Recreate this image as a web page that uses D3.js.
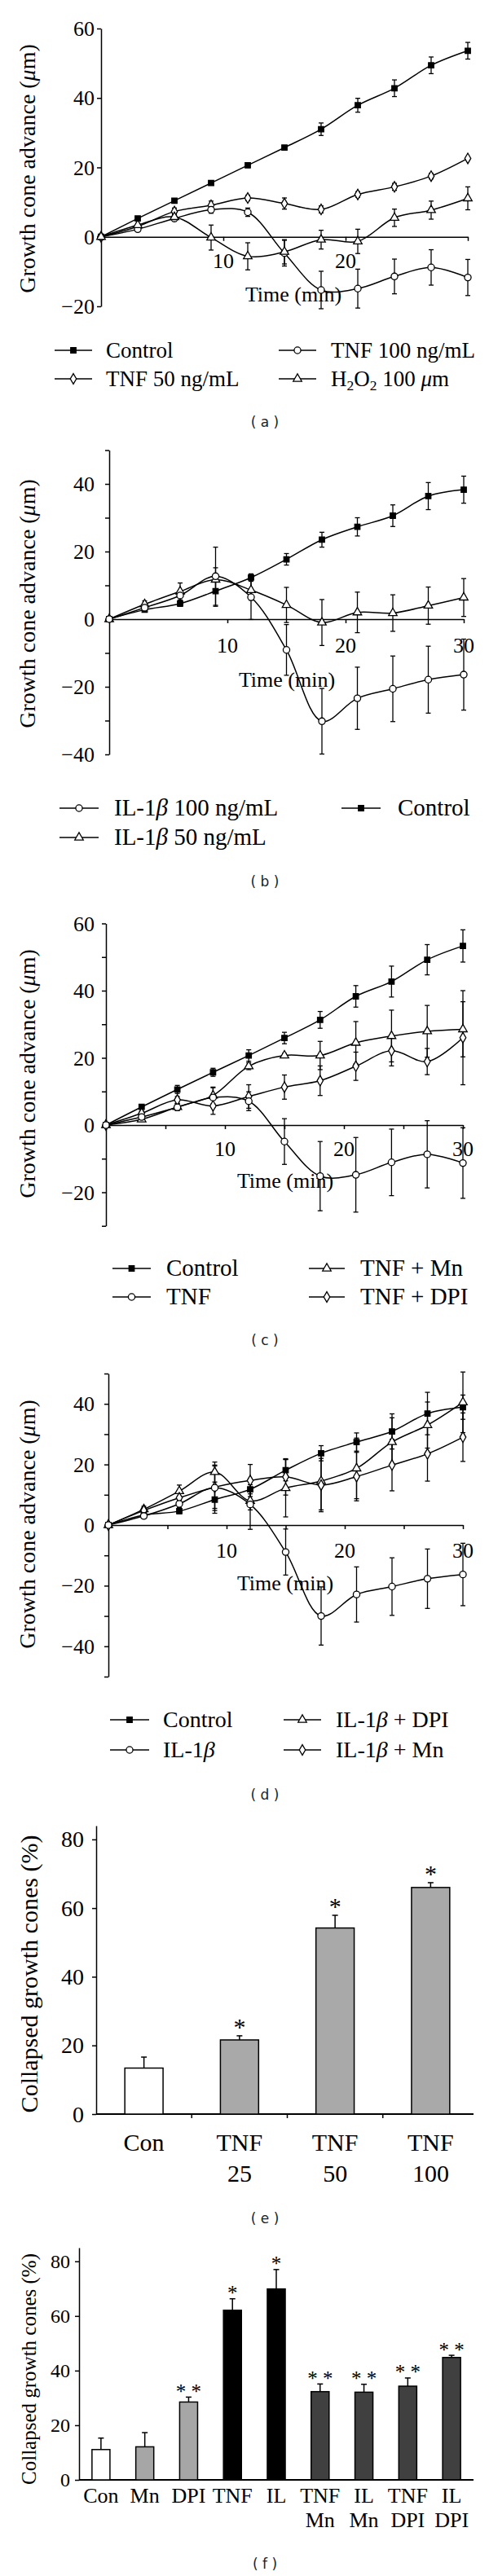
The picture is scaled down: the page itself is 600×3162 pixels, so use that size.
<!DOCTYPE html>
<html><head><meta charset="utf-8">
<script src="https://cdn.jsdelivr.net/npm/d3@7"></script>
<style>
body{margin:0;background:#fff}
text{font-family:"Liberation Serif","Times New Roman",serif;fill:#000}
</style>
</head><body>
<script>
// ---------- DATA ----------
const times = [0, 3, 6, 9, 12, 15, 18, 21, 24, 27, 30];

// Panel (a)
const aControl    = [0, 5.3, 10.4, 15.5, 20.6, 25.7, 31.0, 37.9, 42.8, 49.4, 53.6];
const aControlErr = [0, 0.5, 0.6, 0.6, 0.6, 0.6, 1.8, 2.0, 2.4, 2.4, 2.4];
const aTnf50      = [0, 3.0, 7.3, 9.1, 11.2, 9.6, 7.9, 12.2, 14.4, 17.5, 22.6];
const aTnf50Err   = [0, 0.5, 1.0, 1.2, 0.8, 1.6, 1.0, 0.8, 1.0, 0.8, 0.4];
const aTnf100     = [0, 2.2, 5.3, 7.8, 7.1, -4.7, -15.3, -14.9, -11.4, -8.8, -11.7];
const aTnf100Err  = [0, 0.5, 0.8, 1.0, 1.2, 3.7, 5.4, 5.6, 5.0, 5.1, 5.2];
const aH2o2       = [0, 3.4, 5.7, -0.2, -5.6, -4.3, -0.8, -1.3, 5.5, 7.7, 11.1];
const aH2o2Err    = [0, 0.5, 0.8, 3.6, 3.9, 3.5, 2.7, 3.5, 2.5, 2.6, 3.3];

// Panel (b)
const bControl    = [0, 2.8, 4.6, 8.3, 12.3, 17.7, 23.5, 27.3, 30.6, 36.4, 38.3];
const bControlErr = [0, 0.6, 0.8, 4.5, 1.1, 1.7, 2.2, 2.7, 3.2, 4.0, 4.0];
const bIl100      = [0, 3.4, 7.0, 12.7, 6.5, -9.1, -30.2, -23.4, -20.6, -17.9, -16.4];
const bIl100Err   = [0, 0.8, 1.5, 8.6, 6.6, 7.5, 9.7, 9.2, 9.7, 9.9, 10.5];
const bIl50       = [0, 4.4, 8.2, 11.7, 8.6, 4.2, -1.0, 2.0, 1.8, 4.0, 6.4];
const bIl50Err    = [0, 1.0, 2.5, 3.5, 3.0, 5.2, 6.8, 6.0, 5.4, 5.5, 5.6];

// Panel (c)
const cControl    = [0, 5.4, 10.6, 15.7, 20.7, 25.9, 31.3, 38.3, 42.7, 49.2, 53.3];
const cControlErr = [0, 0.5, 1.2, 1.2, 1.7, 1.7, 2.5, 3.2, 4.6, 4.5, 4.8];
const cTnf        = [0, 2.4, 5.3, 8.2, 7.1, -4.9, -15.2, -14.8, -11.1, -8.7, -11.3];
const cTnfErr     = [0, 0.6, 1.0, 2.9, 2.8, 6.8, 10.3, 11.1, 9.9, 10.0, 10.5];
const cTnfMn      = [0, 1.7, 5.4, 8.8, 17.5, 20.7, 20.7, 24.5, 26.5, 27.9, 28.5];
const cTnfMnErr   = [0, 0.5, 1.0, 2.5, 1.0, 0.6, 4.2, 6.3, 7.7, 7.7, 8.2];
const cTnfDpi     = [0, 3.5, 7.5, 5.7, 8.5, 11.3, 13.2, 17.5, 22.1, 18.9, 26.0];
const cTnfDpiErr  = [0, 0.6, 1.0, 2.5, 3.5, 3.6, 4.4, 4.2, 4.5, 3.9, 14.0];

// Panel (d)
const dControl    = [0, 3.3, 4.6, 8.4, 11.8, 18.1, 23.7, 27.4, 30.9, 36.8, 38.9];
const dControlErr = [0, 0.6, 0.8, 4.5, 1.5, 3.5, 2.5, 3.0, 5.8, 7.0, 4.0];
const dIl         = [0, 3.0, 7.0, 12.3, 6.8, -8.9, -30.0, -22.9, -20.3, -17.7, -16.3];
const dIlErr      = [0, 0.6, 1.2, 7.5, 8.2, 7.6, 9.6, 9.1, 9.5, 9.8, 10.3];
const dIlDpi      = [0, 5.2, 11.2, 17.5, 8.0, 12.2, 14.5, 18.7, 27.4, 33.0, 40.5];
const dIlDpiErr   = [0, 1.0, 2.0, 3.3, 3.0, 9.5, 9.5, 10.0, 8.0, 7.6, 10.0];
const dIlMn       = [0, 4.8, 9.0, 12.5, 14.7, 15.9, 13.2, 16.0, 19.8, 23.5, 29.0];
const dIlMnErr    = [0, 0.8, 1.5, 7.0, 5.3, 6.0, 8.8, 8.0, 8.5, 9.0, 8.0];

// Panel (e)
const eLabels1 = ["Con", "TNF", "TNF", "TNF"];
const eLabels2 = ["", "25", "50", "100"];
const eValues  = [13.4, 21.6, 54.2, 66.0];
const eErr     = [3.2, 1.2, 3.7, 1.4];
const eSig     = ["", "*", "*", "*"];
const eFill    = ["#ffffff", "#a9a9a9", "#a9a9a9", "#a9a9a9"];

// Panel (f)
const fLabels1 = ["Con", "Mn", "DPI", "TNF", "IL", "TNF", "IL", "TNF", "IL"];
const fLabels2 = ["", "", "", "", "", "Mn", "Mn", "DPI", "DPI"];
const fValues  = [11.1, 12.1, 28.5, 62.1, 69.9, 32.3, 32.1, 34.3, 44.8];
const fErr     = [4.2, 5.2, 1.8, 4.2, 7.1, 2.8, 2.9, 3.0, 0.8];
const fSig     = ["", "", "**", "*", "*", "**", "**", "**", "**"];
const fFill    = ["#ffffff", "#a6a6a6", "#a6a6a6", "#000000", "#000000", "#404040", "#404040", "#404040", "#404040"];

// Text parts (rich text: i = italic, sub = subscript)
const yTitleLine = [{t:"Growth cone advance ("},{t:"μ",i:true},{t:"m)"}];
const yTitleBar  = [{t:"Collapsed growth cones (%)"}];
const legControl = [{t:"Control"}];
const legTnf50   = [{t:"TNF 50 ng/mL"}];
const legTnf100  = [{t:"TNF 100 ng/mL"}];
const legH2o2    = [{t:"H"},{t:"2",sub:true},{t:"O"},{t:"2",sub:true},{t:" 100 "},{t:"μ",i:true},{t:"m"}];
const legIl100   = [{t:"IL-1"},{t:"β",i:true},{t:" 100 ng/mL"}];
const legIl50    = [{t:"IL-1"},{t:"β",i:true},{t:" 50 ng/mL"}];
const legTnf     = [{t:"TNF"}];
const legTnfMn   = [{t:"TNF + Mn"}];
const legTnfDpi  = [{t:"TNF + DPI"}];
const legIl      = [{t:"IL-1"},{t:"β",i:true}];
const legIlDpi   = [{t:"IL-1"},{t:"β",i:true},{t:" + DPI"}];
const legIlMn    = [{t:"IL-1"},{t:"β",i:true},{t:" + Mn"}];

// ---------- DRAWING ----------
const W = 600, H = 3162;
const svg = d3.select("body").append("svg").attr("width", W).attr("height", H).style("display","block");
svg.append("rect").attr("width", W).attr("height", H).attr("fill", "#fff");

function rich(sel, parts, fs) {
  parts.forEach(p => {
    const ts = sel.append("tspan").text(p.t);
    if (p.i) ts.attr("font-style", "italic");
    if (p.sub) { ts.attr("font-size", fs * 0.65).attr("baseline-shift", "-25%"); }
  });
  return sel;
}

const symMap = {square: d3.symbolSquare, circle: d3.symbolCircle, triangle: d3.symbolTriangle, diamond: d3.symbolDiamond};
const symSize = {square: 42, circle: 52, triangle: 48, diamond: 48};
function marker(g, type, x, y) {
  g.append("path").attr("d", d3.symbol(symMap[type], symSize[type])())
    .attr("transform", `translate(${x},${y})`)
    .attr("fill", type === "square" ? "#000" : "#fff")
    .attr("stroke", "#000").attr("stroke-width", 1.3);
}

function styleAxis(s) {
  s.select(".domain").attr("stroke", "#000").attr("stroke-width", 1.5);
  s.selectAll(".tick line").attr("stroke", "#000").attr("stroke-width", 1.5);
  s.selectAll(".tick text").remove();
}

function panelLabel(letter, cy) {
  svg.append("text").attr("x", 325).attr("y", cy + 6).attr("text-anchor", "middle")
    .style("font-family", "'DejaVu Sans', Verdana, sans-serif").style("font-size", "17px").style("fill", "#222")
    .text(`( ${letter} )`);
}

function linePanel(c) {
  const g = svg.append("g");
  const x = d3.scaleLinear().domain([0, 30]).range([c.x0, c.x1]);
  const y = d3.scaleLinear().domain([c.yMin, c.yMax]).range([c.yBot, c.yTop]);

  g.append("g").attr("transform", `translate(${c.x0},0)`)
    .call(d3.axisLeft(y).tickValues(c.yTicks).tickSize(5).tickSizeOuter(0)).call(styleAxis);
  g.append("g").attr("transform", `translate(0,${y(0)})`)
    .call(d3.axisBottom(x).tickValues(c.xTicks).tickSize(5).tickSizeOuter(0)).call(styleAxis);

  c.yLabels.forEach(v => {
    g.append("text").attr("x", c.labelRight).attr("y", y(v) + 9).attr("text-anchor", "end")
      .attr("fill", "#000").style("font-size", "26px").text(d3.format("")(v));
  });
  c.xLabels.forEach(v => {
    g.append("text").attr("x", x(v)).attr("y", c.xLabelBase).attr("text-anchor", "middle")
      .attr("fill", "#000").style("font-size", "26px").text(v);
  });
  g.append("text").attr("x", c.timeX).attr("y", c.timeBase).attr("text-anchor", "middle")
    .attr("fill", "#000").style("font-size", "26px").text("Time (min)");
  rich(g.append("text").attr("transform", `translate(43,${c.titleY}) rotate(-90)`).attr("text-anchor", "middle")
    .attr("fill", "#000").style("font-size", "28px"), yTitleLine, 28);

  const line = d3.line().x((d, i) => x(times[i])).y(d => y(d)).curve(d3.curveCatmullRom.alpha(0.5));
  c.series.forEach(s => {
    g.append("path").attr("d", line(s.v)).attr("fill", "none").attr("stroke", "#000").attr("stroke-width", 1.5);
  });
  c.series.forEach(s => {
    s.v.forEach((v, i) => {
      const e = s.e[i];
      if (!e) return;
      const xi = x(times[i]);
      g.append("line").attr("x1", xi).attr("x2", xi).attr("y1", y(v - e)).attr("y2", y(v + e)).attr("stroke", "#000").attr("stroke-width", 1.3);
      [v - e, v + e].forEach(b => g.append("line").attr("x1", xi - 3).attr("x2", xi + 3).attr("y1", y(b)).attr("y2", y(b)).attr("stroke", "#000").attr("stroke-width", 1.3));
    });
  });
  c.series.forEach(s => s.v.forEach((v, i) => marker(g, s.m, x(times[i]), y(v))));

  // legend
  c.legend.forEach(L => {
    const col = c.legCols[L.col], cy = c.legRows[L.row];
    g.append("line").attr("x1", col[0]).attr("x2", col[1]).attr("y1", cy).attr("y2", cy).attr("stroke", "#000").attr("stroke-width", 1.5);
    marker(g, L.m, (col[0] + col[1]) / 2, cy);
    rich(g.append("text").attr("x", col[2]).attr("y", cy + 9).attr("fill", "#000").style("font-size", c.legFs + "px"), L.parts, c.legFs);
  });
  panelLabel(c.letter, c.letterY);
}

linePanel({
  x0: 124, x1: 574, yMin: -20, yMax: 60, yBot: 376, yTop: 35,
  yTicks: [60, 40, 20, 0, -20], yLabels: [60, 40, 20, 0, -20], labelRight: 116,
  xTicks: [10, 20, 30], xLabels: [10, 20], xLabelBase: 329, timeX: 360, timeBase: 370, titleY: 207,
  series: [
    {v: aControl, e: aControlErr, m: "square"},
    {v: aTnf50, e: aTnf50Err, m: "diamond"},
    {v: aTnf100, e: aTnf100Err, m: "circle"},
    {v: aH2o2, e: aH2o2Err, m: "triangle"}
  ],
  legRows: [430, 465], legCols: [[67, 113, 130], [342, 388, 406]], legFs: 27,
  legend: [
    {parts: legControl, m: "square", col: 0, row: 0},
    {parts: legTnf50, m: "diamond", col: 0, row: 1},
    {parts: legTnf100, m: "circle", col: 1, row: 0},
    {parts: legH2o2, m: "triangle", col: 1, row: 1}
  ],
  letter: "a", letterY: 518
});

linePanel({
  x0: 134, x1: 569, yMin: -40, yMax: 50, yBot: 926, yTop: 552.5,
  yTicks: [50, 40, 30, 20, 10, 0, -10, -20, -30, -40], yLabels: [40, 20, 0, -20, -40], labelRight: 116,
  xTicks: [10, 20, 30], xLabels: [10, 20, 30], xLabelBase: 801, timeX: 352, timeBase: 843, titleY: 741,
  series: [
    {v: bControl, e: bControlErr, m: "square"},
    {v: bIl50, e: bIl50Err, m: "triangle"},
    {v: bIl100, e: bIl100Err, m: "circle"}
  ],
  legRows: [992, 1028], legCols: [[73, 121, 140], [419, 467, 488]], legFs: 29,
  legend: [
    {parts: legIl100, m: "circle", col: 0, row: 0},
    {parts: legIl50, m: "triangle", col: 0, row: 1},
    {parts: legControl, m: "square", col: 1, row: 0}
  ],
  letter: "b", letterY: 1082
});

linePanel({
  x0: 130, x1: 568, yMin: -30, yMax: 60, yBot: 1504.75, yTop: 1133.5,
  yTicks: [60, 50, 40, 30, 20, 10, 0, -10, -20, -30], yLabels: [60, 40, 20, 0, -20], labelRight: 116,
  xTicks: [5, 10, 15, 20, 25, 30], xLabels: [10, 20, 30], xLabelBase: 1419, timeX: 350, timeBase: 1458, titleY: 1318,
  series: [
    {v: cControl, e: cControlErr, m: "square"},
    {v: cTnfMn, e: cTnfMnErr, m: "triangle"},
    {v: cTnfDpi, e: cTnfDpiErr, m: "diamond"},
    {v: cTnf, e: cTnfErr, m: "circle"}
  ],
  legRows: [1557, 1592], legCols: [[138, 185, 204], [379, 423, 442]], legFs: 29,
  legend: [
    {parts: legControl, m: "square", col: 0, row: 0},
    {parts: legTnf, m: "circle", col: 0, row: 1},
    {parts: legTnfMn, m: "triangle", col: 1, row: 0},
    {parts: legTnfDpi, m: "diamond", col: 1, row: 1}
  ],
  letter: "c", letterY: 1645
});

linePanel({
  x0: 133, x1: 568, yMin: -50, yMax: 50, yBot: 2058, yTop: 1686,
  yTicks: [50, 40, 30, 20, 10, 0, -10, -20, -30, -40, -50], yLabels: [40, 20, 0, -20, -40], labelRight: 116,
  xTicks: [5, 10, 15, 20, 25, 30], xLabels: [10, 20, 30], xLabelBase: 1912, timeX: 350, timeBase: 1952, titleY: 1871,
  series: [
    {v: dControl, e: dControlErr, m: "square"},
    {v: dIlDpi, e: dIlDpiErr, m: "triangle"},
    {v: dIlMn, e: dIlMnErr, m: "diamond"},
    {v: dIl, e: dIlErr, m: "circle"}
  ],
  legRows: [2111, 2148], legCols: [[135, 183, 200], [348, 394, 412]], legFs: 28,
  legend: [
    {parts: legControl, m: "square", col: 0, row: 0},
    {parts: legIl, m: "circle", col: 0, row: 1},
    {parts: legIlDpi, m: "triangle", col: 1, row: 0},
    {parts: legIlMn, m: "diamond", col: 1, row: 1}
  ],
  letter: "d", letterY: 2203
});

function barPanel(c) {
  const g = svg.append("g");
  const n = c.values.length;
  const x = d3.scaleBand().domain(d3.range(n)).range([c.bx0, c.bx1]);
  const y = d3.scaleLinear().domain([0, c.yMax]).range([c.y0, c.yTop]);
  const bw = x.bandwidth() * c.barFrac;

  g.append("g").attr("transform", `translate(${c.ax},0)`)
    .call(d3.axisLeft(y).tickValues(c.yTicks).tickSize(5).tickSizeOuter(0)).call(styleAxis);
  g.append("line").attr("x1", c.ax).attr("x2", c.axEnd).attr("y1", c.y0).attr("y2", c.y0).attr("stroke", "#000").attr("stroke-width", 2);
  (c.xTickIdx || []).forEach(i => g.append("line").attr("x1", x(i)).attr("x2", x(i)).attr("y1", c.y0).attr("y2", c.y0 + 5).attr("stroke", "#000").attr("stroke-width", 1.5));

  c.yTicks.forEach(v => g.append("text").attr("x", c.labelRight).attr("y", y(v) + c.tickFs * 0.34).attr("text-anchor", "end")
    .attr("fill", "#000").style("font-size", c.tickFs + "px").text(v));

  c.values.forEach((v, i) => {
    const cx = x(i) + x.bandwidth() / 2;
    g.append("rect").attr("x", cx - bw / 2).attr("y", y(v)).attr("width", bw).attr("height", c.y0 - y(v))
      .attr("fill", c.fill[i]).attr("stroke", "#000").attr("stroke-width", 1.5);
    const top = y(v + c.err[i]);
    g.append("line").attr("x1", cx).attr("x2", cx).attr("y1", y(v)).attr("y2", top).attr("stroke", "#000").attr("stroke-width", 1.5);
    g.append("line").attr("x1", cx - 3.5).attr("x2", cx + 3.5).attr("y1", top).attr("y2", top).attr("stroke", "#000").attr("stroke-width", 1.5);
    if (c.sig[i]) {
      g.append("text").attr("x", cx).attr("y", top - c.sigGap + c.sigFs * 0.5).attr("text-anchor", "middle")
        .attr("fill", "#000").style("fill", "#000").style("font-size", c.sigFs + "px").style("white-space", "pre")
        .text(c.sig[i].split("").join(" "));
    }
    g.append("text").attr("x", cx).attr("y", c.cat1).attr("text-anchor", "middle").attr("fill", "#000").style("font-size", c.catFs + "px").text(c.l1[i]);
    if (c.l2[i]) g.append("text").attr("x", cx).attr("y", c.cat2).attr("text-anchor", "middle").attr("fill", "#000").style("font-size", c.catFs + "px").text(c.l2[i]);
  });

  rich(g.append("text").attr("transform", `translate(${c.titleX},${c.titleY}) rotate(-90)`).attr("text-anchor", "middle")
    .attr("fill", "#000").style("font-size", c.titleFs + "px"), yTitleBar, c.titleFs);
  panelLabel(c.letter, c.letterY);
}

barPanel({
  values: eValues, err: eErr, sig: eSig, fill: eFill, l1: eLabels1, l2: eLabels2,
  bx0: 118, bx1: 587, barFrac: 0.4, ax: 118, axEnd: 581, y0: 2595, yTop: 2241, yMax: 84,
  yTicks: [0, 20, 40, 60, 80], labelRight: 103, tickFs: 28, xTickIdx: [1, 2, 3],
  sigGap: 16, sigFs: 30, catFs: 30, cat1: 2640, cat2: 2678,
  titleX: 46, titleY: 2423, titleFs: 30, letter: "e", letterY: 2723
});

barPanel({
  values: fValues, err: fErr, sig: fSig, fill: fFill, l1: fLabels1, l2: fLabels2,
  bx0: 97, bx1: 581, barFrac: 0.41, ax: 97, axEnd: 581, y0: 3044, yTop: 2759, yMax: 85,
  yTicks: [0, 20, 40, 60, 80], labelRight: 86, tickFs: 24, xTickIdx: [],
  sigGap: 11, sigFs: 25, catFs: 26, cat1: 3072, cat2: 3102,
  titleX: 44, titleY: 2908, titleFs: 25, letter: "f", letterY: 3147
});
</script>
</body></html>
